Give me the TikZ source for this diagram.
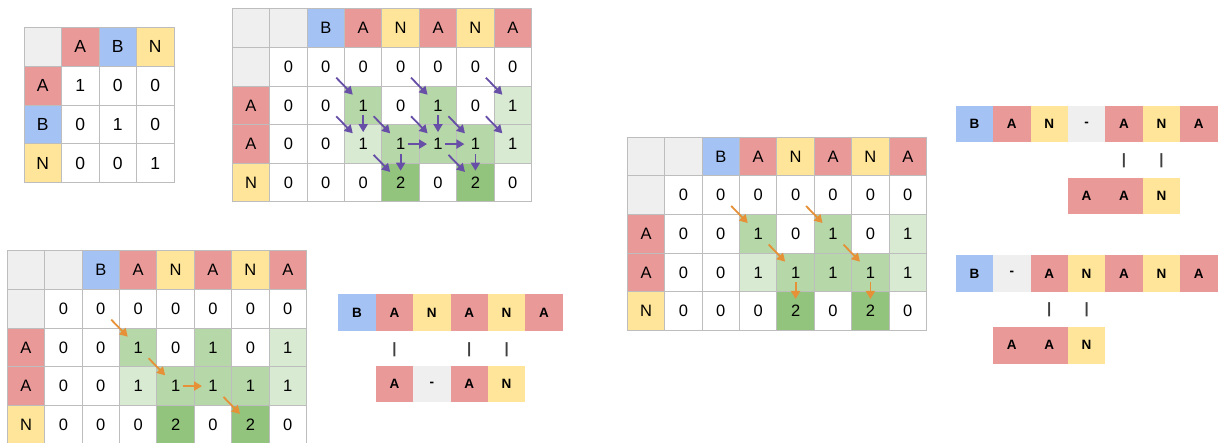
\documentclass[tikz,border=0pt]{standalone}
\usepackage{fontspec}
\setmainfont{Liberation Sans}
\usetikzlibrary{arrows.meta}
\definecolor{grid}{HTML}{BDBDBD}
\definecolor{hgray}{HTML}{EFEFEF}
\definecolor{hred}{HTML}{EA9999}
\definecolor{hblue}{HTML}{A4C2F4}
\definecolor{hyel}{HTML}{FFE599}
\definecolor{glight}{HTML}{D9EAD3}
\definecolor{gmid}{HTML}{B6D7A8}
\definecolor{gdark}{HTML}{93C47D}
\definecolor{pathv}{HTML}{674EA7}
\definecolor{patho}{HTML}{E69138}

\begin{document}
\begin{tikzpicture}[x=1pt, y=-1pt,
  cell/.style={draw=grid, line width=1pt, minimum width=37.4pt, minimum height=38.6pt, inner sep=0pt, font=\fontsize{16.5}{18}\selectfont},
  base/.style={minimum width=37.4pt, minimum height=36.5pt, inner sep=0pt, font=\fontsize{13.5}{15}\selectfont\bfseries},
  bar/.style={inner sep=0pt, font=\fontsize{15}{16}\selectfont\bfseries, text=black!75},
  hop/.style={line width=1.8pt, -{Triangle[length=8pt,width=9pt]}},
  dg/.style={hop, shorten <=15pt, shorten >=15pt},
  vt/.style={hop, shorten <=10pt, shorten >=12pt},
  hz/.style={hop, shorten <=7pt, shorten >=11pt}]
\useasboundingbox (0,0) rectangle (1221,443);
\foreach \r/\c/\f in {0/0/hgray, 0/1/hred, 0/2/hblue, 0/3/hyel, 1/0/hred, 2/0/hblue, 3/0/hyel}
  { \fill[\f] (24+\c*37.5, 27.3+\r*38.9) rectangle ++(37.5,38.9); }
\foreach \r/\vals in {0/{{},A,B,N}, 1/{A,1,0,0}, 2/{B,0,1,0}, 3/{N,0,0,1}}
  { \foreach \v [count=\c from 0] in \vals
    { \node[cell, minimum width=37.5pt, minimum height=38.9pt, font=\fontsize{17.5}{19}\selectfont] (s-\r-\c) at (24+\c*37.5+18.75, 27.3+\r*38.9+19.45) {\v}; } }
\foreach \tb/\ox/\oy in {p/232.3/9, q/7.3/251, o/627.3/137.3} {
  \foreach \r/\c/\f in {0/0/hgray, 0/1/hgray, 0/2/hblue, 0/3/hred, 0/4/hyel, 0/5/hred, 0/6/hyel, 0/7/hred, 1/0/hgray, 2/0/hred, 3/0/hred, 4/0/hyel, 2/3/gmid, 2/5/gmid, 2/7/glight, 3/3/glight, 3/4/gmid, 3/5/gmid, 3/6/gmid, 3/7/glight, 4/4/gdark, 4/6/gdark}
    { \fill[\f] (\ox+\c*37.4, \oy+\r*38.6) rectangle ++(37.4,38.6); }
  \foreach \r/\vals in {0/{{},{},B,A,N,A,N,A}, 1/{{},0,0,0,0,0,0,0}, 2/{A,0,0,1,0,1,0,1}, 3/{A,0,0,1,1,1,1,1}, 4/{N,0,0,0,2,0,2,0}}
    { \foreach \v [count=\c from 0] in \vals
      { \node[cell] (\tb-\r-\c) at (\ox+\c*37.4+18.7, \oy+\r*38.6+19.3) {\v}; } }
}
\foreach \a/\b in {1-2/2-3, 1-4/2-5, 1-6/2-7, 2-2/3-3, 2-3/3-4, 2-4/3-5, 2-5/3-6, 2-6/3-7, 3-3/4-4, 3-5/4-6}
  { \draw[dg, pathv] (p-\a.center) -- (p-\b.center); }
\foreach \a/\b in {2-3/3-3, 2-5/3-5, 3-4/4-4, 3-6/4-6} { \draw[vt, pathv] (p-\a.center) -- (p-\b.center); }
\foreach \a/\b in {3-4/3-5, 3-5/3-6} { \draw[hz, pathv] (p-\a.center) -- (p-\b.center); }
\foreach \a/\b in {1-2/2-3, 2-3/3-4, 3-5/4-6} { \draw[dg, patho] (q-\a.center) -- (q-\b.center); }
\draw[hz, patho] (q-3-4.center) -- (q-3-5.center);
\foreach \a/\b in {1-2/2-3, 1-4/2-5, 2-3/3-4, 2-5/3-6} { \draw[dg, patho] (o-\a.center) -- (o-\b.center); }
\foreach \a/\b in {3-4/4-4, 3-6/4-6} { \draw[vt, patho] (o-\a.center) -- (o-\b.center); }
\foreach \v/\f [count=\i] in {B/hblue, A/hred, N/hyel, A/hred, N/hyel, A/hred}
  { \node[base, fill=\f] (ua-\i) at (338.3+\i*37.4-18.7, 312.5) {\v}; }
\foreach \v/\f [count=\i from 2] in {A/hred, -/hgray, A/hred, N/hyel}
  { \node[base, fill=\f] (la-\i) at (338.3+\i*37.4-18.7, 383.9) {\v}; }
\foreach \i in {2,4,5} { \node[bar] (ma-\i) at (338.3+\i*37.4-18.7, 350) {|}; }
\foreach \v/\f [count=\i] in {B/hblue, A/hred, N/hyel, -/hgray, A/hred, N/hyel, A/hred}
  { \node[base, fill=\f] (ub-\i) at (955.7+\i*37.4-18.7, 124.2) {\v}; }
\foreach \v/\f [count=\i from 4] in {A/hred, A/hred, N/hyel}
  { \node[base, fill=\f] (lb-\i) at (955.7+\i*37.4-18.7, 195.8) {\v}; }
\foreach \i in {5,6} { \node[bar] (mb-\i) at (955.7+\i*37.4-18.7, 161) {|}; }
\foreach \v/\f [count=\i] in {B/hblue, -/hgray, A/hred, N/hyel, A/hred, N/hyel, A/hred}
  { \node[base, fill=\f] (uc-\i) at (955.7+\i*37.4-18.7, 273.7) {\v}; }
\foreach \v/\f [count=\i from 2] in {A/hred, A/hred, N/hyel}
  { \node[base, fill=\f] (lc-\i) at (955.7+\i*37.4-18.7, 345.3) {\v}; }
\foreach \i in {3,4} { \node[bar] (mc-\i) at (955.7+\i*37.4-18.7, 310) {|}; }
\end{tikzpicture}
\end{document}
